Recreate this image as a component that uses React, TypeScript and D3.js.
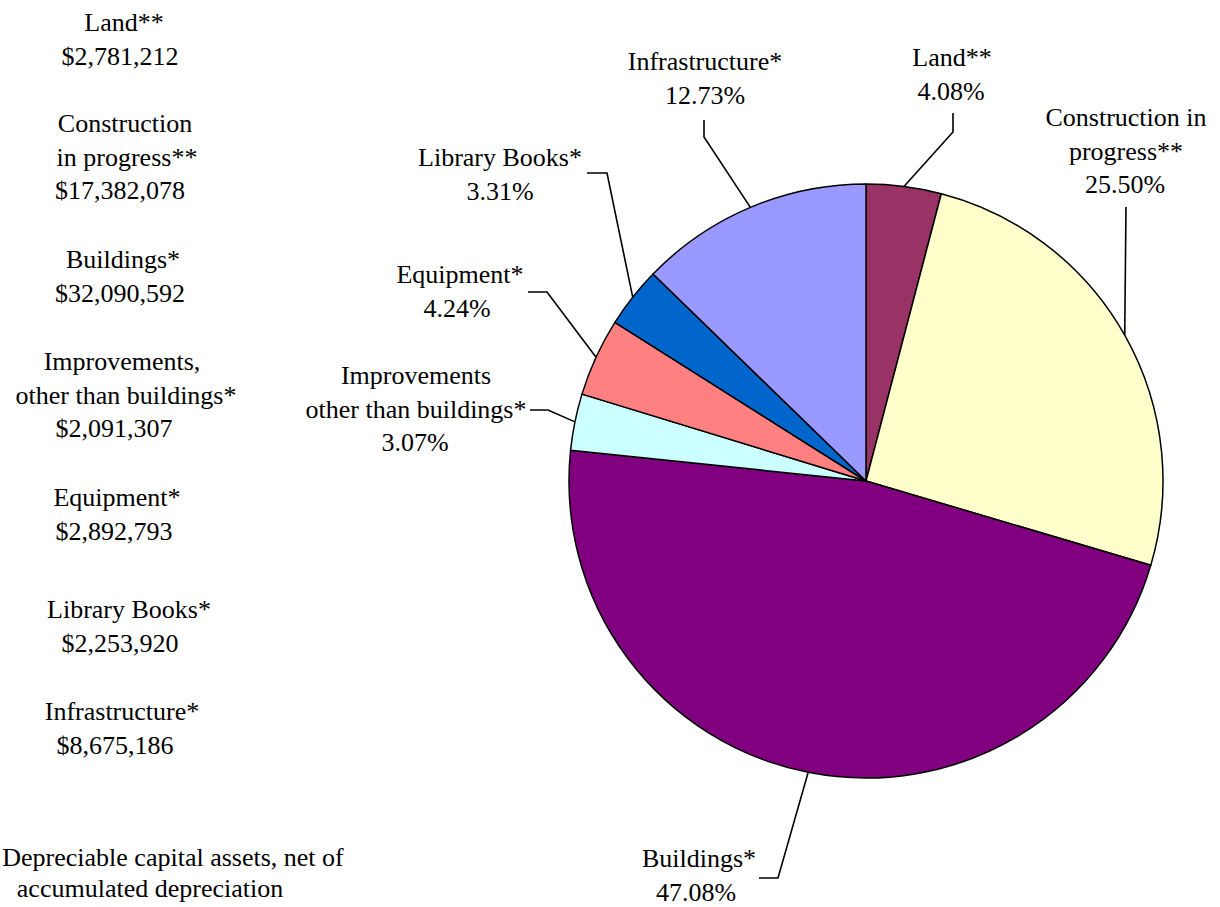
import React from "react";
import * as d3 from "d3";

const categories = [
  "Land**",
  "Construction in progress**",
  "Buildings*",
  "Improvements other than buildings*",
  "Equipment*",
  "Library Books*",
  "Infrastructure*",
];
const values = [2781212, 17382078, 32090592, 2091307, 2892793, 2253920, 8675186];
const colors = ["#993366", "#FFFFCC", "#800080", "#CCFFFF", "#FF8080", "#0066CC", "#9999FF"];

// line breaks of the text blocks
const leftLines = [
  ["Land**"],
  ["Construction", "in progress**"],
  ["Buildings*"],
  ["Improvements,", "other than buildings*"],
  ["Equipment*"],
  ["Library Books*"],
  ["Infrastructure*"],
];
const calloutLines = [
  ["Land**"],
  ["Construction in", "progress**"],
  ["Buildings*"],
  ["Improvements", "other than buildings*"],
  ["Equipment*"],
  ["Library Books*"],
  ["Infrastructure*"],
];
const footnoteLines = ["Depreciable capital assets, net of", "accumulated depreciation"];

// layout
const W = 1220;
const H = 907;
const CX = 866;
const CY = 481;
const R = 297;
const FS = 26;
const LH = 33.7;
const leftCenters = [
  [124, 120],
  [125, 127, 120],
  [123, 120],
  [122, 126, 114],
  [117, 114],
  [129, 120],
  [122, 115],
];
const leftY = [31, 132, 268, 370, 506, 618, 720];
const callouts = [
  { xs: [952, 951], y: 66, pts: [[953, 132], [953, 113]] },
  { xs: [1126, 1126, 1125], y: 126, pts: [[1126, 207]] },
  { xs: [699, 696], y: 867, pts: [[778, 878], [759, 878]] },
  { xs: [416, 416, 415], y: 384, pts: [[548, 410], [530, 410]] },
  { xs: [460, 457], y: 283, pts: [[547, 292], [528, 292]] },
  { xs: [500, 500], y: 166, pts: [[607, 173], [587, 173]] },
  { xs: [705, 705], y: 70, pts: [[704, 137], [704, 120]] },
];
const footnote = [
  { x: 173, y: 866 },
  { x: 150, y: 897 },
];

export default function App() {
  const total = d3.sum(values);
  const pie = d3.pie<number>().sort(null).value((d) => d);
  const arcs = pie(values);
  const arc = d3.arc<d3.PieArcDatum<number>>().innerRadius(0).outerRadius(R);
  const edge = d3.arc<d3.PieArcDatum<number>>().innerRadius(R).outerRadius(R);
  const pct = (v: number) => ((v / total) * 100).toFixed(2) + "%";
  const money = (v: number) => "$" + d3.format(",")(v);
  const line = d3.line();

  const texts: { x: number; y: number; s: string }[] = [];
  categories.forEach((c, i) => {
    [...leftLines[i], money(values[i])].forEach((s, j) =>
      texts.push({ x: leftCenters[i][j], y: leftY[i] + j * LH, s })
    );
    [...calloutLines[i], pct(values[i])].forEach((s, j) =>
      texts.push({ x: callouts[i].xs[j], y: callouts[i].y + j * LH, s })
    );
  });
  footnoteLines.forEach((s, j) => texts.push({ x: footnote[j].x, y: footnote[j].y, s }));

  return (
    <svg width={W} height={H} style={{ position: "absolute", left: 0, top: 0 }}>
      {/* pie */}
      <g transform={`translate(${CX},${CY})`}>
        {arcs.map((a, i) => (
          <path
            key={categories[i]}
            d={arc(a) || ""}
            fill={colors[i]}
            stroke="#000"
            strokeWidth={1.5}
            strokeLinejoin="round"
          />
        ))}
      </g>
      {/* leader lines */}
      {arcs.map((a, i) => {
        const [ex, ey] = edge.centroid(a);
        const pts: [number, number][] = [[CX + ex, CY + ey], ...(callouts[i].pts as [number, number][])];
        return <path key={"ld" + i} d={line(pts) || ""} fill="none" stroke="#000" strokeWidth={1.6} />;
      })}
      {texts.map((t, k) => (
        <text
          key={k}
          x={t.x}
          y={t.y}
          fontSize={FS}
          textAnchor="middle"
          fill="#000"
          style={{ fontFamily: "Liberation Serif" }}
        >
          {t.s}
        </text>
      ))}
    </svg>
  );
}
